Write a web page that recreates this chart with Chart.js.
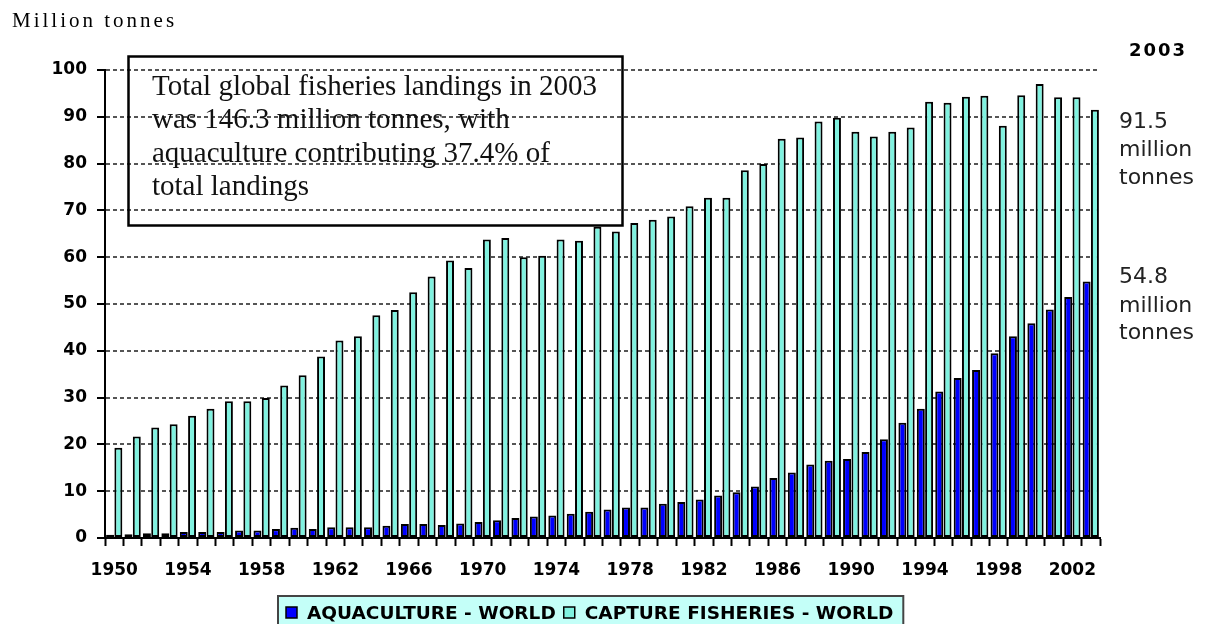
<!DOCTYPE html>
<html>
<head>
<meta charset="utf-8">
<script src="https://cdn.jsdelivr.net/npm/chart.js@4/dist/chart.umd.min.js"></script>
<style>
  html, body { margin: 0; padding: 0; background: #fff; }
  #wrap { width: 1211px; height: 624px; position: relative; }
</style>
</head>
<body>
<div id="wrap"><canvas id="chart"></canvas></div>
<script>
// Global fisheries landings 1950-2003, million tonnes
const years = [];
for (let y = 1950; y <= 2003; y++) years.push(String(y));

const shownYears = ['1950', '1954', '1958', '1962', '1966', '1970', '1974',
  '1978', '1982', '1986', '1990', '1994', '1998', '2002'];

const aquaculture = [
  0.7, 0.8, 1.0, 1.0, 1.3, 1.3, 1.3, 1.6, 1.6, 1.9,
  2.2, 1.9, 2.3, 2.3, 2.3, 2.6, 3.0, 3.0, 2.8, 3.1,
  3.4, 3.8, 4.3, 4.6, 4.8, 5.2, 5.6, 6.1, 6.5, 6.5,
  7.3, 7.7, 8.2, 9.1, 9.8, 11.0, 12.8, 14.0, 15.7, 16.5,
  16.9, 18.4, 21.1, 24.6, 27.6, 31.3, 34.2, 35.9, 39.5, 43.1,
  45.9, 48.8, 51.5, 54.8
];

const capture = [
  19.3, 21.7, 23.6, 24.3, 26.1, 27.6, 29.2, 29.2, 29.9, 32.6,
  34.8, 38.8, 42.2, 43.1, 47.6, 48.7, 52.5, 55.9, 59.3, 57.7,
  63.8, 64.1, 60.0, 60.3, 63.8, 63.5, 66.5, 65.5, 67.3, 68.0,
  68.7, 70.9, 72.7, 72.7, 78.6, 79.9, 85.3, 85.6, 89.0, 89.8,
  86.8, 85.8, 86.8, 87.7, 93.2, 93.0, 94.3, 94.5, 88.1, 94.6,
  97.0, 94.2, 94.2, 91.5
];

const seriesNames = ['AQUACULTURE - WORLD', 'CAPTURE FISHERIES - WORLD'];

const BLUE = '#0000FF';
const AQUA = '#80F2E0';
const TICK_FONT = { family: 'DejaVu Sans', size: 17, weight: 'bold' };

// text box, unit label, 2003 notes and the legend
const annotations = {
  id: 'annotations',
  afterDraw(chart) {
    const ctx = chart.ctx;
    ctx.save();

    ctx.fillStyle = '#000';
    ctx.textBaseline = 'alphabetic';
    ctx.font = '21px "Liberation Serif"';
    ctx.letterSpacing = '3px';
    ctx.fillText('Million tonnes', 12, 27);

    // summary box (transparent, grid shows through)
    ctx.letterSpacing = '0px';
    ctx.strokeStyle = '#000';
    ctx.lineWidth = 2.5;
    ctx.strokeRect(128.5, 56.5, 494, 169);
    ctx.font = '29px "Liberation Serif"';
    ctx.fillStyle = '#111';
    const lines = ['Total global fisheries landings in 2003',
      'was 146.3 million tonnes, with',
      'aquaculture contributing 37.4% of',
      'total landings'];
    lines.forEach((t, i) => ctx.fillText(t, 152, 95 + i * 33.3));

    // 2003 notes at right
    ctx.textBaseline = 'middle';
    ctx.fillStyle = '#000';
    ctx.font = 'bold 18px "DejaVu Sans"';
    ctx.letterSpacing = '2px';
    ctx.fillText('2003', 1129, 51);
    ctx.letterSpacing = '0px';
    ctx.fillStyle = '#222';
    ctx.font = '22px "DejaVu Sans"';
    const notes = [
      [capture[capture.length - 1].toFixed(1), 122],
      ['million', 150], ['tonnes', 178],
      [aquaculture[aquaculture.length - 1].toFixed(1), 277],
      ['million', 306], ['tonnes', 333]
    ];
    notes.forEach(([t, y]) => ctx.fillText(t, 1119, y));

    // legend
    ctx.font = 'bold 18.5px "DejaVu Sans"';
    const ds = chart.data.datasets;
    let x = 286;
    const items = ds.map(d => {
      const it = { x, d, w: ctx.measureText(d.label).width };
      x += 21 + it.w + 8;
      return it;
    });
    const right = x - 8 + 10;
    ctx.fillStyle = '#C4FFF8';
    ctx.fillRect(278, 596, right - 278, 32);
    ctx.strokeStyle = '#444';
    ctx.lineWidth = 2;
    ctx.strokeRect(278, 596, right - 278, 32);
    items.forEach(it => {
      ctx.fillStyle = it.d.backgroundColor;
      ctx.fillRect(it.x, 607, 11, 11);
      ctx.strokeStyle = '#000';
      ctx.lineWidth = 1.5;
      ctx.strokeRect(it.x, 607, 11, 11);
      ctx.fillStyle = '#000';
      ctx.fillText(it.d.label, it.x + 21, 614);
    });

    ctx.restore();
  }
};

new Chart(document.getElementById('chart'), {
  type: 'bar',
  data: {
    labels: years,
    datasets: [
      {
        label: seriesNames[0],
        data: aquaculture,
        backgroundColor: BLUE,
        borderColor: '#000',
        borderWidth: 2,
        borderSkipped: false
      },
      {
        label: seriesNames[1],
        data: capture,
        backgroundColor: AQUA,
        borderColor: '#000',
        borderWidth: 2,
        borderSkipped: false
      }
    ]
  },
  options: {
    responsive: true,
    maintainAspectRatio: false,
    animation: false,
    datasets: {
      bar: { categoryPercentage: 0.9, barPercentage: 0.96 }
    },
    layout: { padding: { top: 70, right: 111, bottom: 0, left: 0 } },
    plugins: {
      legend: { display: false },
      title: { display: false },
      tooltip: { enabled: false }
    },
    scales: {
      x: {
        offset: true,
        grid: {
          offset: true,
          drawOnChartArea: false,
          drawTicks: true,
          tickLength: 8,
          tickColor: '#000',
          tickWidth: 2
        },
        border: { color: '#000', width: 2 },
        ticks: {
          autoSkip: false,
          maxRotation: 0,
          padding: 14,
          color: '#000',
          font: TICK_FONT,
          callback: function (val, idx) {
            const lab = years[idx];
            return shownYears.includes(lab) ? lab : '';
          }
        },
        afterFit: function (scale) { scale.height = 86; }
      },
      y: {
        min: 0,
        max: 100,
        grid: {
          color: '#555',
          lineWidth: 2,
          drawTicks: true,
          tickLength: 8,
          tickColor: '#000',
          tickWidth: 2
        },
        border: { color: '#000', width: 2, dash: [4, 3] },
        ticks: {
          stepSize: 10,
          padding: 10,
          color: '#000',
          font: TICK_FONT
        },
        afterFit: function (scale) { scale.width = 105; }
      }
    }
  },
  plugins: [annotations]
});
</script>
</body>
</html>
